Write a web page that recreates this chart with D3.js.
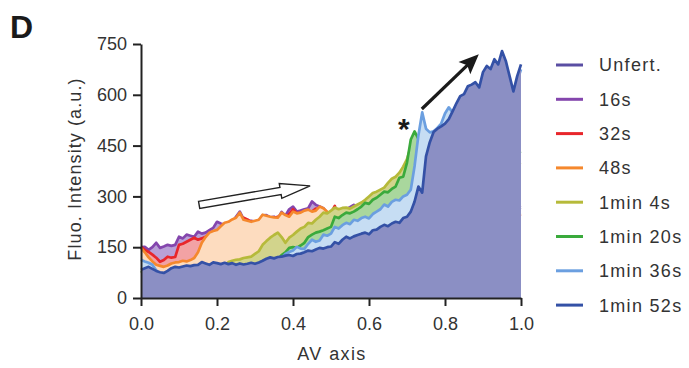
<!DOCTYPE html>
<html><head><meta charset="utf-8">
<script src="https://cdn.jsdelivr.net/npm/d3@7"></script>
<style>body{margin:0;background:#fff;} svg{display:block;}</style>
</head><body>
<svg id="chart" width="689" height="368"></svg>
<script>
const seriesNames = ["Unfert.","16s","32s","48s","1min 4s","1min 20s","1min 36s","1min 52s"];
const lineColors = ["#5a4ea3","#8446ad","#e8262b","#f5882d","#b6ba3a","#3aaa3c","#6b9fe0","#3451a6"];
const fillColors = ["#aaa4d2","#b9a0d6","#f2a2a4","#fddcbf","#d2d48c","#a9d79d","#c6ddf3","#8b8fc4"];
const yTicks = [0,150,300,450,600,750];
const xTicks = [0,0.2,0.4,0.6,0.8,1.0];
const positions = d3.range(101).map(i => i / 100);

const unfert = [144,145,136,144,157,142,146,151,148,151,
 175,170,181,178,175,190,184,187,194,201,
 219,214,210,212,216,234,249,227,220,222,
 220,223,238,239,232,234,229,248,237,256,
 264,249,252,256,259,279,269,264,259,246,
 244,249,254,252,256,262,269,259,264,259,
 264,262,266,264,260,264,268,264,262,266,
 264,262,264,262,266,264,260,264,268,264,
 262,266,264,262,260,264,266,262,264,260,
 264,266,262,264,260,262,264,266,262,264,
 262];
const s16 = [150,151,142,150,163,148,152,157,154,157,
 181,176,187,184,181,196,190,193,200,207,
 225,220,216,218,222,240,255,233,226,228,
 226,229,244,245,238,240,235,254,243,262,
 270,255,258,262,265,285,275,270,265,252,
 250,255,260,258,262,268,275,265,270,265,
 270,268,272,270,266,270,274,270,268,272,
 270,268,270,268,272,270,266,270,274,270,
 268,272,270,268,266,270,272,268,270,266,
 270,272,268,270,266,268,270,272,268,270,
 268];
const s32 = [151,142,136,128,119,107,112,122,119,121,
 157,160,166,172,178,172,176,181,190,196,
 185,178,195,201,210,222,230,237,232,225,
 226,222,232,235,230,236,240,243,238,248,
 262,250,252,248,255,255,264,260,258,252,
 250,272,232,236,234,240,238,236,244,246,
 240,248,244,246,250,246,244,248,250,246,
 244,248,246,244,248,250,246,244,248,246,
 250,244,246,248,244,246,250,248,244,246,
 248,250,246,244,248,246,244,248,246,244,
 246];
const s48 = [148,135,120,108,98,95,92,96,102,105,
 106,110,108,112,118,135,163,180,193,198,
 201,212,222,225,232,237,252,231,228,225,
 228,231,246,243,240,238,237,252,245,240,
 255,250,252,258,261,255,258,270,265,255,
 230,225,235,240,238,245,242,240,248,250,
 245,252,248,250,255,250,248,252,255,250,
 248,252,250,248,252,255,250,248,252,250,
 255,248,250,252,248,250,255,252,248,250,
 252,255,250,248,252,250,248,252,250,248,
 250];
const s64 = [73,78,82,76,70,66,64,70,78,82,
 80,83,86,84,87,88,96,92,88,95,
 93,90,94,106,110,113,114,118,120,122,
 130,138,157,168,178,186,193,180,163,178,
 186,196,205,210,222,220,231,240,252,250,
 258,267,262,266,267,264,270,276,282,290,
 300,310,314,320,326,340,352,358,370,388,
 410,448,440,400,380,390,400,405,398,410,
 402,415,408,412,405,418,410,405,412,400,
 408,415,410,402,398,405,400,395,402,398,
 400];
const s80 = [75,80,84,78,72,68,66,72,80,84,
 82,85,88,86,89,90,98,94,90,97,
 95,92,96,92,95,90,94,91,93,96,
 93,97,102,108,112,109,113,127,135,148,
 150,148,155,163,180,187,193,196,200,205,
 210,240,236,245,252,250,255,262,270,281,
 278,290,296,305,314,312,322,329,355,358,
 400,468,492,470,450,430,440,445,438,450,
 455,448,452,460,455,450,448,452,445,440,
 448,452,445,440,438,442,436,440,435,430,
 433];
const s96 = [113,108,104,98,82,70,66,72,80,84,
 84,87,90,88,91,92,100,96,92,99,
 97,94,98,94,97,92,96,93,95,98,
 95,99,104,110,114,111,115,118,130,136,
 140,151,146,145,160,172,166,170,187,184,
 190,210,205,215,222,218,231,228,236,240,
 235,248,255,262,276,270,284,290,288,300,
 305,320,390,480,548,500,489,492,502,515,
 545,563,548,560,580,588,610,615,622,608,
 652,670,661,690,675,714,685,640,595,640,
 675];
const s112 = [83,88,92,86,80,76,74,80,88,92,
 90,93,96,94,97,98,106,102,98,105,
 103,100,104,100,103,98,102,99,101,104,
 101,105,110,116,120,117,121,122,125,127,
 124,130,131,135,140,138,143,148,146,150,
 152,165,160,172,181,176,182,186,190,193,
 188,200,202,210,216,212,220,225,222,236,
 240,255,285,329,311,418,460,490,500,507,
 515,528,551,575,596,602,625,630,637,622,
 667,685,676,705,690,729,700,655,610,655,
 690];
const seriesValues = [unfert, s16, s32, s48, s64, s80, s96, s112];

// annotation anchors in data units
const hollowArrow = {from:[0.153,275], to:[0.445,331]};
const blackArrow = {from:[0.739,558], to:[0.889,720]};
const starAt = [0.692,470];

const svg = d3.select("#chart");
const font = "'Liberation Sans', Arial, Helvetica, sans-serif";
const x = d3.scaleLinear().domain([0,1]).range([141,521]);
const y = d3.scaleLinear().domain([0,750]).range([298,44]);

const area = d3.area().x(d => x(d.x)).y0(y(0)).y1(d => y(d.v));
const line = d3.line().x(d => x(d.x)).y(d => y(d.v));

const plot = svg.append("g");
seriesValues.forEach((vals, k) => {
  const data = positions.map((p, i) => ({x: p, v: vals[i]}));
  plot.append("path").datum(data).attr("d", area).attr("fill", fillColors[k]);
  plot.append("path").datum(data).attr("d", line).attr("fill", "none")
    .attr("stroke", lineColors[k]).attr("stroke-width", 2.7).attr("stroke-linejoin", "round");
});

// axes
const yAxis = d3.axisLeft(y).tickValues(yTicks).tickSize(8).tickPadding(6).tickSizeOuter(0);
const xAxis = d3.axisBottom(x).tickValues(xTicks).tickFormat(d3.format(".1f")).tickSize(8).tickPadding(11).tickSizeOuter(0);
const gy = svg.append("g").attr("transform", "translate(141,0)").call(yAxis);
const gx = svg.append("g").attr("transform", "translate(0,298)").call(xAxis);
[gx, gy].forEach(g => {
  g.select(".domain").attr("stroke", "#222").attr("stroke-width", 2);
  g.selectAll(".tick line").attr("stroke", "#222").attr("stroke-width", 2);
  g.selectAll(".tick text").attr("fill", "#333").style("font-size", "18px").style("font-family", font);
});

svg.append("text").attr("x", 332).attr("y", 360).attr("text-anchor", "middle")
  .style("font-family", font).style("font-size", "18px").style("letter-spacing", "1.4px")
  .attr("fill", "#333").text("AV axis");
svg.append("text").attr("transform", "translate(81,169) rotate(-90)").attr("text-anchor", "middle")
  .style("font-family", font).style("font-size", "18px").style("letter-spacing", "1.1px")
  .attr("fill", "#333").text("Fluo. Intensity (a.u.)");
svg.append("text").attr("x", 10).attr("y", 38)
  .style("font-family", font).style("font-size", "32px").style("font-weight", "bold")
  .attr("fill", "#1a1a1a").text("D");

// legend
const lg = svg.append("g");
seriesNames.forEach((name, k) => {
  const ly = 65 + k * 34.3;
  lg.append("line").attr("x1", 556).attr("x2", 583).attr("y1", ly).attr("y2", ly)
    .attr("stroke", lineColors[k]).attr("stroke-width", 3);
  lg.append("text").attr("x", 599).attr("y", ly).attr("dy", "0.36em")
    .style("font-family", font).style("font-size", "18px").style("letter-spacing", "1.3px")
    .attr("fill", "#333").text(name);
});

// hollow arrow
(function(){
  const x0 = x(hollowArrow.from[0]), y0 = y(hollowArrow.from[1]);
  const x1 = x(hollowArrow.to[0]), y1 = y(hollowArrow.to[1]);
  const L = Math.hypot(x1 - x0, y1 - y0);
  const ang = Math.atan2(y1 - y0, x1 - x0) * 180 / Math.PI;
  const hl = 30, hw = 7.5, sw = 3.6;
  svg.append("polygon")
    .attr("transform", `translate(${x0},${y0}) rotate(${ang})`)
    .attr("points", [[0,-sw],[L-hl,-sw],[L-hl,-hw],[L,0],[L-hl,hw],[L-hl,sw],[0,sw]].map(p => p.join(",")).join(" "))
    .attr("fill", "#fff").attr("stroke", "#222").attr("stroke-width", 1.4).attr("stroke-linejoin", "miter");
})();
// black arrow
(function(){
  const x0 = x(blackArrow.from[0]), y0 = y(blackArrow.from[1]);
  const x1 = x(blackArrow.to[0]), y1 = y(blackArrow.to[1]);
  const L = Math.hypot(x1 - x0, y1 - y0);
  const ang = Math.atan2(y1 - y0, x1 - x0) * 180 / Math.PI;
  const g = svg.append("g").attr("transform", `translate(${x0},${y0}) rotate(${ang})`);
  g.append("line").attr("x1", 0).attr("y1", 0).attr("x2", L - 14).attr("y2", 0)
    .attr("stroke", "#1a1a1a").attr("stroke-width", 3.2);
  g.append("polygon").attr("points", `${L},0 ${L-20},-8.5 ${L-16},0 ${L-20},8.5`).attr("fill", "#1a1a1a");
})();
svg.append("text").attr("x", x(starAt[0])).attr("y", y(starAt[1])).attr("text-anchor", "middle")
  .style("font-family", font).style("font-size", "30px").style("font-weight", "bold")
  .attr("fill", "#1a1a1a").text("*");
</script>
</body></html>
